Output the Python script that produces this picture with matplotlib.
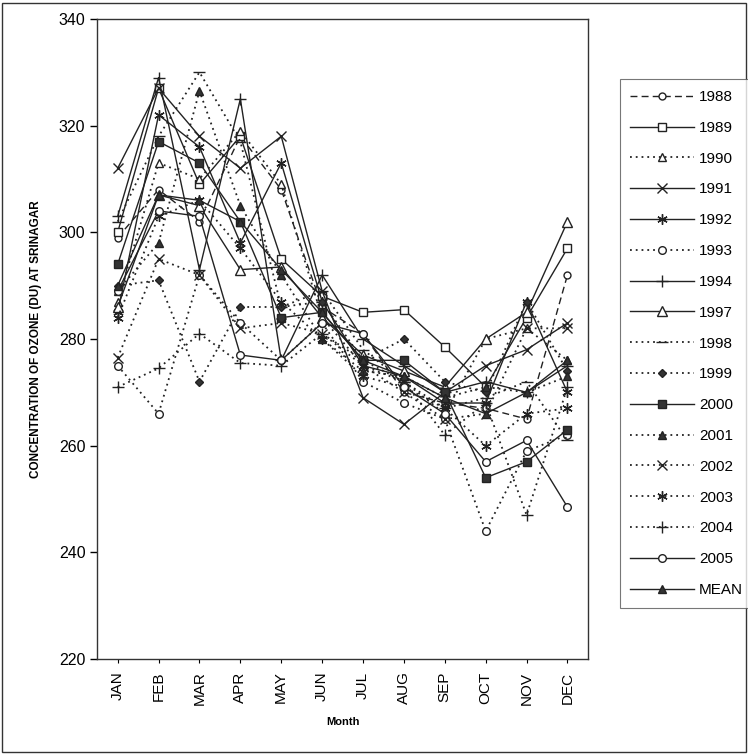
import matplotlib
matplotlib.use('Agg')
import matplotlib.pyplot as plt
from matplotlib.patches import Rectangle

# ---------------- data (DU) ----------------
MONTHS = ["JAN", "FEB", "MAR", "APR", "MAY", "JUN",
          "JUL", "AUG", "SEP", "OCT", "NOV", "DEC"]

Y1988 = [299, 308, 302, 318, 308, 286, 281, 270, 268, 267, 265, 292]
Y1989 = [300, 327, 309, 318, 295, 288, 285, 285.5, 278.5, 271, 284, 297]
Y1990 = [287, 313, 310, 319, 309, 284, 275, 272, 266, 280, 282, 276]
Y1991 = [312, 327, 318, 312, 318, 289, 269, 264, 270, 275, 278, 283]
Y1992 = [285, 322, 316, 298, 313, 287, 275, 273, 268, 268, 287, 270]
Y1993 = [275, 266, 292, 283, 276, 283, 272, 268, 265, 244, 259, 262]
Y1994 = [303, 329, 293, 325, 276, 292, 280, 275, 270, 272, 270, 275]
Y1997 = [286, 307, 305, 293, 293.5, 284, 277, 274, 271, 280, 285, 302]
Y1998 = [302, 318, 330, 317, 286, 289, 278, 272, 267, 269, 272, 261]
Y1999 = [290, 291, 272, 286, 286, 287, 276, 280, 272, 270, 287, 274]
Y2000 = [294, 317, 313, 302, 284, 285, 276, 276, 270, 254, 257, 263]
Y2001 = [289, 298, 326.5, 305, 292, 280, 274, 273, 269, 271, 270, 273]
Y2002 = [276.5, 295, 292, 282, 283, 281, 275, 270, 265, 266, 282, 282]
Y2003 = [284, 303, 306, 297, 287, 280, 273, 271, 267, 260, 266, 267]
Y2004 = [271, 274.5, 281, 275.5, 275, 281, 276, 272, 262, 268, 247, 271]
Y2005 = [289, 304, 303, 277, 276, 283, 281, 271, 266, 257, 261, 248.5]
MEAN = [290, 307, 306, 302, 293, 285, 276, 273, 269, 266, 270, 276]

LABELS = ["1988", "1989", "1990", "1991", "1992", "1993", "1994", "1997",
          "1998", "1999", "2000", "2001", "2002", "2003", "2004", "2005", "MEAN"]
SERIES = [Y1988, Y1989, Y1990, Y1991, Y1992, Y1993, Y1994, Y1997,
          Y1998, Y1999, Y2000, Y2001, Y2002, Y2003, Y2004, Y2005, MEAN]

# ---------------- style ----------------
DASH = (0, (5, 3))
DOT = (0, (1, 2.2))
SOLID = '-'
STAR = (6, 2, 0)

# (linestyle, marker, filled, size)
STYLES = [
    (DASH, 'o', False, 5),
    (SOLID, 's', False, 6),
    (DOT, '^', False, 5.5),
    (SOLID, 'x', False, 6.5),
    (SOLID, STAR, False, 7.5),
    (DOT, 'o', False, 5.5),
    (SOLID, '+', False, 8.5),
    (SOLID, '^', False, 6.5),
    (DOT, '_', False, 8.5),
    (DOT, 'D', True, 4.5),
    (SOLID, 's', True, 5.5),
    (DOT, '^', True, 5.5),
    (DOT, 'x', False, 6.5),
    (DOT, STAR, False, 7.5),
    (DOT, '+', False, 8.5),
    (SOLID, 'o', False, 5.5),
    (SOLID, '^', True, 5.5),
]

plt.rcParams.update({
    'font.family': ['Liberation Sans', 'DejaVu Sans'],
    'figure.facecolor': 'white',
})

fig = plt.figure(figsize=(7.48, 7.55), dpi=100)
ax = fig.add_axes([0.13, 0.127, 0.656, 0.848])

x = list(range(len(MONTHS)))
handles = []
for lab, ys, (ls, mk, filled, ms) in zip(LABELS, SERIES, STYLES):
    lw = 1.3 if ls == DOT else 1.0
    h, = ax.plot(x, ys, linestyle=ls, color='#222222', linewidth=lw,
                 marker=mk, markersize=ms, markeredgewidth=1.0,
                 markeredgecolor='#222222',
                 markerfacecolor='#333333' if filled else 'white',
                 label=lab)
    handles.append(h)

ax.set_ylim(220, 340)
ax.set_xlim(-0.5, 11.5)
ax.set_yticks(range(220, 341, 20))
ax.set_xticks(x)
ax.set_xticklabels(MONTHS, rotation=90, fontsize=11)
ax.tick_params(axis='y', labelsize=11.5, direction='out', length=5, width=1)
ax.tick_params(axis='x', direction='out', length=3, width=0.8, pad=6)
for s in ax.spines.values():
    s.set_linewidth(1.0)
    s.set_color('#333333')

ax.set_ylabel("CONCENTRATION OF OZONE (DU) AT SRINAGAR", fontsize=8.5,
              fontweight='bold', labelpad=12)
ax.set_xlabel("Month", fontsize=8, fontweight='bold', labelpad=8)

leg = fig.legend(handles=handles, labels=LABELS, loc='upper left',
                 bbox_to_anchor=(0.818, 0.905), fontsize=11,
                 handlelength=4.2, labelspacing=1.10, handletextpad=0.3,
                 borderpad=0.7, frameon=True, fancybox=False,
                 edgecolor='#555555')
leg.get_frame().set_linewidth(0.8)

# outer page border of the scan
fig.patches.append(Rectangle((0.003, 0.004), 0.994, 0.992, transform=fig.transFigure,
                             fill=False, edgecolor='#333333', linewidth=1.0))

plt.savefig("out.png", dpi=100, facecolor='white')
plt.close()
print("Saved: out.png")
